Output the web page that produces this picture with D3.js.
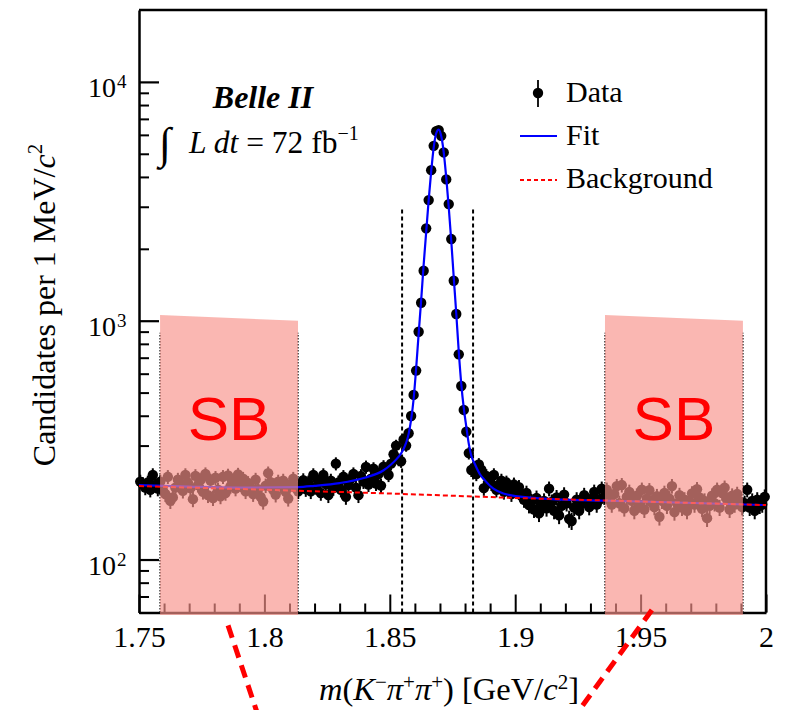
<!DOCTYPE html>
<html>
<head>
<meta charset="utf-8">
<script src="https://cdn.jsdelivr.net/npm/d3@7"></script>
<style>
  body { margin: 0; background: #fff; }
  svg { display: block; }
</style>
</head>
<body>
<svg id="chart" width="799" height="710"></svg>
<script>
// ---- Data: D+ -> K- pi+ pi+ invariant mass, 1 MeV bins from 1.750 to 2.000 GeV ----
const massLow = 1.75;
const massHigh = 2.0;
const binWidth = 0.001;

// candidates per bin
const counts = [
  212, 207, 200, 210, 196, 226, 205, 198,
  // left sideband region
  212, 195, 188, 222, 176, 182, 200, 216, 208, 194, 226, 210, 199, 179, 224, 205,
  215, 192, 228, 186, 214, 181, 220, 196, 184, 222, 190, 225, 203, 214, 198, 227,
  206, 218, 193, 209, 200, 188, 216, 197, 183, 175, 204, 230, 211, 196, 187, 212,
  203, 214, 192, 180, 206, 218, 199, 193,
  // rising towards the peak
  205, 215, 197, 210, 193, 226, 201, 212, 190, 226, 207, 186, 214, 199, 252, 210,
  196, 222, 183, 205, 218, 228, 200, 186, 224, 212, 244, 206, 218, 240, 208, 228,
  204, 245, 236, 226, 252, 276, 300, 262, 258,
  // signal peak
  318, 300, 338, 399, 489, 618, 899, 1189, 1619, 2436, 3199, 4271, 5398, 6220,
  6281, 5943, 5065, 3905, 3078, 2197, 1470, 1067, 723, 533, 423, 343, 279, 237,
  // falling side
  242, 228, 250, 238, 199, 224, 215, 208, 226, 196, 205, 214, 192, 210, 198, 188,
  206, 193, 201, 185, 178, 190, 169, 175, 162, 181, 156, 170, 176, 164, 198, 174,
  160, 182, 153, 168, 187, 172, 148, 145, 165, 178, 160, 171, 186, 175, 166, 180,
  192, 170, 178, 198, 183,
  // right sideband region
  196, 178, 170, 188, 203, 172, 205, 164, 183, 192, 176, 160, 185, 170, 196, 162,
  180, 195, 173, 166, 184, 151, 176, 190, 168, 180, 203, 158, 172, 186, 165, 178,
  160, 175, 189, 170, 197, 182, 163, 176, 149, 168, 185, 172, 196, 165, 190, 200,
  178, 162, 185, 170, 188, 175, 166,
  172, 196, 165, 176, 160, 178, 168, 170, 183
];

// total fit (signal + background)
const fitMass = [
  1.7500, 1.7700, 1.7900, 1.8134, 1.8200, 1.8300, 1.8400, 1.8474, 1.8505, 1.8525,
  1.8545, 1.8565, 1.8575, 1.8585, 1.8595, 1.8605, 1.8615, 1.8625, 1.8635, 1.8645,
  1.8655, 1.8665, 1.8675, 1.8685, 1.8695, 1.8705, 1.8715, 1.8725, 1.8735, 1.8745,
  1.8755, 1.8765, 1.8775, 1.8785, 1.8795, 1.8805, 1.8815, 1.8825, 1.8840, 1.8860,
  1.8880, 1.8913, 1.8953, 1.8979, 1.9111, 1.9500, 2.0000
];
const fitValue = [
  205, 202, 200, 201, 203.5, 209, 220, 236, 250, 262,
  278, 308, 335, 385, 470, 631, 881, 1216, 1718, 2344,
  3199, 4217, 5309, 6095, 6310, 5929, 5070, 3981, 2985, 2163,
  1514, 1072, 741, 543, 430, 360, 305, 272, 250, 227,
  214, 198, 189, 186, 180, 175, 169
];

// background component
const bkgMass = [1.75, 1.80, 1.85, 1.90, 1.95, 2.00];
const bkgValue = [203, 196, 189, 181, 175, 169];

// axis ticks
const xTicks = [1.75, 1.8, 1.85, 1.9, 1.95, 2.0];
const xTickLabels = ["1.75", "1.8", "1.85", "1.9", "1.95", "2"];
const yTicks = [100, 1000, 10000];
const yTickExponents = ["2", "3", "4"];
const yMinorTicks = [60, 70, 80, 90, 200, 300, 400, 500, 600, 700, 800, 900,
                     2000, 3000, 4000, 5000, 6000, 7000, 8000, 9000];
const yMin = 60, yMax = 20000;

// signal window and sidebands
const signalWindow = [1.8549, 1.8832];
const signalLineTop = 3000;
const sidebands = [[1.7584, 1.8134], [1.9358, 1.9908]];
const sidebandTop = [1056, 1000];
const sidebandLineTop = 890;
const sidebandLabelValue = 316;

// connector strokes leaving the panel
const connectors = [
  [[1.7855, 53], [1.7970, 23]],
  [[1.9545, 61.5], [1.9250, 23]]
];

// ---- Drawing ----
const serif = "Liberation Serif";
const sans = "Liberation Sans";
const svg = d3.select("#chart");
const plot = { left: 139, right: 766, top: 10, bottom: 612.5 };

const x = d3.scaleLinear().domain([massLow, massHigh]).range([plot.left, plot.right]);
const y = d3.scaleLog().domain([yMin, yMax]).range([plot.bottom, plot.top]);

// frame: top and right edges
svg.append("path")
  .attr("d", `M${x(massLow)},${y(yMax)}H${x(massHigh)}V${y(yMin)}`)
  .attr("fill", "none").attr("stroke", "#000").attr("stroke-width", 2.5);

// x axis (ticks pointing inward)
const xMinor = d3.range(1, 25).filter(k => k % 5 !== 0).map(k => massLow + k * 0.01);
const gxMinor = svg.append("g").attr("transform", `translate(0,${plot.bottom})`)
  .call(d3.axisBottom(x).tickValues(xMinor).tickFormat("").tickSizeInner(-9).tickSizeOuter(0));
gxMinor.select(".domain").remove();
gxMinor.selectAll("line").attr("stroke-width", 2);

const gx = svg.append("g").attr("transform", `translate(0,${plot.bottom})`)
  .call(d3.axisBottom(x).tickValues(xTicks).tickFormat((d, i) => xTickLabels[i])
    .tickSizeInner(-18).tickSizeOuter(0).tickPadding(13));
gx.select(".domain").attr("stroke-width", 2.5);
gx.selectAll("line").attr("stroke-width", 2);
gx.selectAll("text").attr("font-family", serif).attr("font-size", 30).attr("fill", "#000");

// y axis (log, ticks pointing inward)
const gyMinor = svg.append("g").attr("transform", `translate(${plot.left},0)`)
  .call(d3.axisLeft(y).tickValues(yMinorTicks).tickFormat("").tickSizeInner(-10).tickSizeOuter(0));
gyMinor.select(".domain").remove();
gyMinor.selectAll("line").attr("stroke-width", 2);

const gy = svg.append("g").attr("transform", `translate(${plot.left},0)`)
  .call(d3.axisLeft(y).tickValues(yTicks).tickFormat("").tickSizeInner(-20).tickSizeOuter(0));
gy.select(".domain").attr("stroke-width", 2.5);
gy.selectAll("line").attr("stroke-width", 2.2);

const yLab = svg.append("g").attr("font-family", serif).attr("fill", "#000");
yTicks.forEach((t, i) => {
  yLab.append("text").attr("x", 116).attr("y", y(t) + 15.5)
    .attr("text-anchor", "end").attr("font-size", 28).text("10");
  yLab.append("text").attr("x", 117).attr("y", y(t) + 6.5)
    .attr("font-size", 19).text(yTickExponents[i]);
});

// axis titles
const yTitle = svg.append("text")
  .attr("transform", "translate(55,305) rotate(-90)")
  .attr("text-anchor", "middle").attr("font-family", serif).attr("font-size", 32);
yTitle.append("tspan").text("Candidates per 1 MeV/");
yTitle.append("tspan").attr("font-style", "italic").text("c");
yTitle.append("tspan").attr("font-size", 21).attr("dy", -13).text("2");

const xTitle = svg.append("text")
  .attr("x", 449).attr("y", 700)
  .attr("text-anchor", "middle").attr("font-family", serif).attr("font-size", 32.5);
xTitle.append("tspan").attr("font-style", "italic").text("m");
xTitle.append("tspan").text("(");
xTitle.append("tspan").attr("font-style", "italic").text("K");
xTitle.append("tspan").attr("font-size", 21).attr("dy", -11).text("\u2212");
xTitle.append("tspan").attr("font-style", "italic").attr("dy", 11).text("\u03c0");
xTitle.append("tspan").attr("font-size", 21).attr("dy", -11).text("+");
xTitle.append("tspan").attr("font-style", "italic").attr("dy", 11).text("\u03c0");
xTitle.append("tspan").attr("font-size", 21).attr("dy", -11).text("+");
xTitle.append("tspan").attr("dy", 11).text(") [GeV/");
xTitle.append("tspan").attr("font-style", "italic").text("c");
xTitle.append("tspan").attr("font-size", 21).attr("dy", -11).text("2");
xTitle.append("tspan").attr("dy", 11).text("]");

// signal window boundaries
svg.append("g").selectAll("line").data(signalWindow).join("line")
  .attr("x1", d => x(d)).attr("x2", d => x(d))
  .attr("y1", y(yMin)).attr("y2", y(signalLineTop))
  .attr("stroke", "#000").attr("stroke-width", 2).attr("stroke-dasharray", "4,3");

// sideband boundaries
svg.append("g").selectAll("line").data(sidebands.flat()).join("line")
  .attr("x1", d => x(d)).attr("x2", d => x(d))
  .attr("y1", y(yMin)).attr("y2", y(sidebandLineTop))
  .attr("stroke", "#222").attr("stroke-width", 1.5).attr("stroke-dasharray", "1.5,1.5");

// data points with Poisson error bars
const points = counts.map((n, i) => ({ m: massLow + binWidth * (i + 0.5), n }));
const gData = svg.append("g");
gData.selectAll("line").data(points).join("line")
  .attr("x1", d => x(d.m)).attr("x2", d => x(d.m))
  .attr("y1", d => y(d.n + Math.sqrt(d.n))).attr("y2", d => y(d.n - Math.sqrt(d.n)))
  .attr("stroke", "#000").attr("stroke-width", 2);
gData.selectAll("circle").data(points).join("circle")
  .attr("cx", d => x(d.m)).attr("cy", d => y(d.n)).attr("r", 5.2).attr("fill", "#000");

// fit and background curves
const fitLine = d3.line().x(d => x(d[0])).y(d => y(d[1])).curve(d3.curveMonotoneX);
svg.append("path").datum(d3.zip(fitMass, fitValue))
  .attr("d", fitLine).attr("fill", "none").attr("stroke", "#0000ff").attr("stroke-width", 2.2);
const bkgLine = d3.line().x(d => x(d[0])).y(d => y(d[1]));
svg.append("path").datum(d3.zip(bkgMass, bkgValue))
  .attr("d", bkgLine).attr("fill", "none").attr("stroke", "#ff0000")
  .attr("stroke-width", 2).attr("stroke-dasharray", "5,3");

// experiment label
svg.append("text").attr("x", 263).attr("y", 108).attr("text-anchor", "middle")
  .attr("font-family", serif).attr("font-size", 32).attr("font-weight", "bold")
  .attr("font-style", "italic").text("Belle II");
svg.append("text").attr("x", 159).attr("y", 158).attr("font-family", serif)
  .attr("font-size", 44).text("\u222b");
const lumi = svg.append("text").attr("x", 189).attr("y", 153)
  .attr("font-family", serif).attr("font-size", 31.5);
lumi.append("tspan").attr("font-style", "italic").text("L dt");
lumi.append("tspan").text(" = 72 fb");
lumi.append("tspan").attr("font-size", 20).attr("dy", -13).text("\u22121");

// legend
const lg = svg.append("g").attr("font-family", serif).attr("font-size", 30);
lg.append("line").attr("x1", 538).attr("x2", 538).attr("y1", 80).attr("y2", 107)
  .attr("stroke", "#000").attr("stroke-width", 1.8);
lg.append("circle").attr("cx", 538).attr("cy", 93).attr("r", 5.2).attr("fill", "#000");
lg.append("text").attr("x", 566).attr("y", 102).text("Data");
lg.append("line").attr("x1", 520).attr("x2", 557).attr("y1", 136).attr("y2", 136)
  .attr("stroke", "#0000ff").attr("stroke-width", 2.2);
lg.append("text").attr("x", 566).attr("y", 145).text("Fit");
lg.append("line").attr("x1", 520).attr("x2", 557).attr("y1", 180).attr("y2", 180)
  .attr("stroke", "#ff0000").attr("stroke-width", 2).attr("stroke-dasharray", "4,3");
lg.append("text").attr("x", 566).attr("y", 188).text("Background");

// translucent sideband bands over everything
const gSB = svg.append("g");
gSB.selectAll("polygon").data(sidebands).join("polygon")
  .attr("points", d => [
      [x(d[0]), y(sidebandTop[0])], [x(d[1]), y(sidebandTop[1])],
      [x(d[1]), y(yMin) + 2.5], [x(d[0]), y(yMin) + 2.5]
    ].map(p => p.join(",")).join(" "))
  .attr("fill", "rgb(248,146,138)").attr("fill-opacity", 0.66);
gSB.selectAll("text").data(sidebands).join("text")
  .attr("x", d => x((d[0] + d[1]) / 2)).attr("y", y(sidebandLabelValue))
  .attr("text-anchor", "middle").attr("font-family", sans).attr("font-size", 62)
  .attr("fill", "#ff0000").text("SB");

// connector strokes
svg.append("g").selectAll("line").data(connectors).join("line")
  .attr("x1", d => x(d[0][0])).attr("y1", d => y(d[0][1]))
  .attr("x2", d => x(d[1][0])).attr("y2", d => y(d[1][1]))
  .attr("stroke", "#ff0000").attr("stroke-width", 5).attr("stroke-dasharray", "13,8");
</script>
</body>
</html>
